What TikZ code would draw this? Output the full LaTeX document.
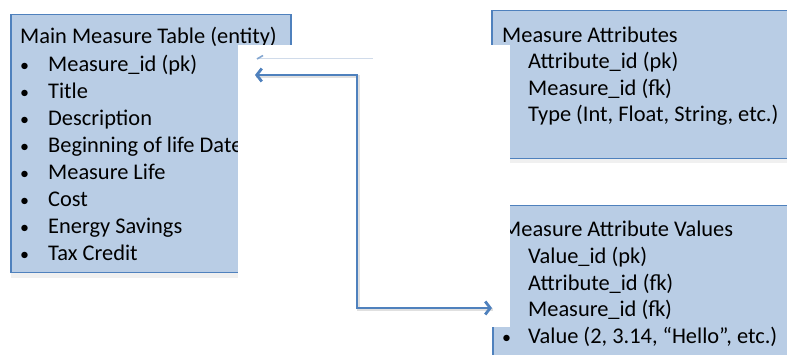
\documentclass[tikz,border=0pt]{standalone}
\usepackage{fontspec}
\setmainfont{Carlito}
\usetikzlibrary{arrows.meta}
\definecolor{boxfill}{RGB}{185,205,229}
\definecolor{boxline}{RGB}{79,129,189}
\definecolor{ghost}{RGB}{208,219,234}

\begin{document}
\begin{tikzpicture}[x=1pt,y=-1pt,
  box/.style={draw=boxline, line width=1.5pt, fill=boxfill, inner sep=0pt, anchor=north west},
  boxshadow/.style={fill=black, opacity=0.06},
  txt/.style={anchor=base west, inner sep=0pt, font=\fontsize{22.4}{26}\selectfont},
  dot/.style={anchor=base west, inner sep=0pt, font=\fontsize{18}{22}\selectfont},
  mask/.style={fill=white, draw=none},
  conn/.style={draw=boxline, line width=2.8pt, {Straight Barb[length=5pt,width=13pt]}-{Straight Barb[length=5pt,width=13pt]}},
  connshadow/.style={draw=black, opacity=0.12, line width=3pt},
]
\useasboundingbox (0,0) rectangle (787,355);
\clip (0,0) rectangle (787,355);

% soft shadows under the tables
\fill[boxshadow] (11,17) rectangle (292,278);
\fill[boxshadow] (492,13) rectangle (800,163);

% the three tables
\node[box, minimum width=280pt, minimum height=258pt] (main) at (10,14) {};
\node[box, minimum width=310pt, minimum height=148pt] (attr) at (491,10) {};
\node[box, minimum width=310pt, minimum height=170pt] (vals) at (492,205) {};

% main measure table
\node[txt] (mainT) at (20,44) {Main Measure Table (entity)};
\foreach [count=\i from 0] \t in {Measure\_id (pk), Title, Description,
    Beginning of life Date, Measure Life, Cost, Energy Savings, Tax Credit} {
  \node[dot] (mb\i) at (20,72+26.86*\i) {\textbullet};
  \node[txt] (mi\i) at (48,72+26.86*\i) {\t};
}

% measure attributes
\node[txt] (attrT) at (502,43) {Measure Attributes};
\foreach [count=\i from 0] \t in {Attribute\_id (pk), Measure\_id (fk),
    {Type (Int, Float, String, etc.)}} {
  \node[txt] (ai\i) at (528,69+26.5*\i) {\t};
}

% measure attribute values
\node[txt] (valsT) at (502,237) {Measure Attribute Values};
\foreach [count=\i from 0] \t in {Value\_id (pk), Attribute\_id (fk), Measure\_id (fk),
    {Value (2, 3.14, “Hello”, etc.)}} {
  \node[txt] (vi\i) at (528,264+26.4*\i) {\t};
}
\node[dot] (vb3) at (502,343) {\textbullet};

% blank panel laid over the middle
\fill[mask] (238,45) rectangle (510,327);

% faint leftover line
\coordinate (g1) at (257,59);
\coordinate (g2) at (373,59);
\coordinate (g3) at (263,55.5);
\draw[ghost, line width=1pt] (g1) -- (g2);
\draw[boxline!70, line width=1.6pt] (g1) -- (g3);

% relation connector
\coordinate (pA) at (255,75);
\coordinate (elbow) at (357,190);
\coordinate (pB) at (492,308);
\begin{scope}[transform canvas={xshift=1.2pt,yshift=-1.8pt}]
  \draw[connshadow] (pA) -| (elbow) |- (pB);
\end{scope}
\draw[conn] (pA) -| (elbow) |- (pB);
\end{tikzpicture}
\end{document}
